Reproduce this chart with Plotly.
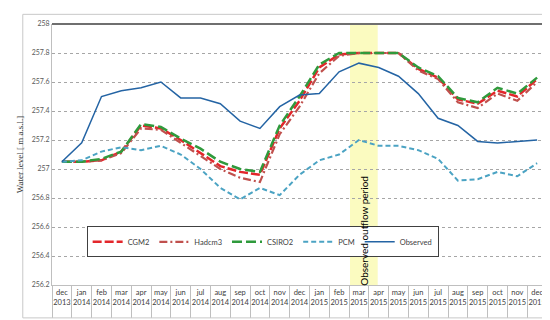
import plotly.graph_objects as go

months = ["dec", "jan", "feb", "mar", "apr", "may", "jun", "jul", "aug", "sep", "oct", "nov",
          "dec", "jan", "feb", "mar", "apr", "may", "jun", "jul", "aug", "sep", "oct", "nov", "dec"]
years = ["2013"] + ["2014"] * 12 + ["2015"] * 12

cgm2 = [257.05, 257.05, 257.06, 257.12, 257.30, 257.28, 257.20, 257.11, 257.02, 256.98, 256.96, 257.28, 257.47,
        257.70, 257.79, 257.80, 257.80, 257.80, 257.69, 257.63, 257.48, 257.45, 257.54, 257.50, 257.62]
hadcm3 = [257.05, 257.05, 257.06, 257.11, 257.28, 257.27, 257.18, 257.09, 257.00, 256.94, 256.91, 257.24, 257.43,
          257.66, 257.78, 257.80, 257.80, 257.80, 257.68, 257.62, 257.46, 257.42, 257.52, 257.47, 257.60]
csiro2 = [257.05, 257.05, 257.07, 257.12, 257.31, 257.29, 257.21, 257.14, 257.05, 257.00, 256.98, 257.30, 257.50,
          257.72, 257.80, 257.80, 257.80, 257.80, 257.70, 257.64, 257.49, 257.46, 257.56, 257.52, 257.63]
pcm = [257.05, 257.06, 257.12, 257.15, 257.13, 257.16, 257.10, 257.00, 256.87, 256.79, 256.87, 256.82, 256.96,
       257.06, 257.10, 257.20, 257.16, 257.16, 257.13, 257.07, 256.92, 256.93, 256.98, 256.95, 257.04]
observed = [257.05, 257.18, 257.50, 257.54, 257.56, 257.60, 257.49, 257.49, 257.45, 257.33, 257.28, 257.43, 257.51,
            257.52, 257.67, 257.73, 257.70, 257.64, 257.52, 257.35, 257.30, 257.19, 257.18, 257.19, 257.20]

outflow_start = 14.55
outflow_end = 15.95

cats = [f"{m}<br>{y}" for m, y in zip(months, years)]

fig = go.Figure()
series = [
    ("CGM2", cgm2, "#E3262B", "9px,3px", 2.5),
    ("Hadcm3", hadcm3, "#C0504D", "8px,3px,2px,3px", 2.2),
    ("CSIRO2", csiro2, "#2F9A3C", "10px,4px", 2.5),
    ("PCM", pcm, "#4BA3C3", "5px,3px", 2.0),
    ("Observed", observed, "#2464A4", "solid", 1.5),
]
for name, vals, color, dash, w in series:
    fig.add_trace(go.Scatter(x=cats, y=vals, name=name, mode="lines",
                             line=dict(color=color, dash=dash, width=w)))

fig.add_shape(type="rect", xref="x", yref="paper", x0=outflow_start, x1=outflow_end, y0=0, y1=1,
              fillcolor="#FBFBC0", line=dict(width=0), layer="below")
fig.add_annotation(text="Observed outflow period", x=(outflow_start + outflow_end) / 2, xref="x",
                   y=256.573, yref="y", textangle=-90, showarrow=False,
                   font=dict(family="Lato", size=10, color="#000000"))
# plot frame top and right
fig.add_shape(type="line", xref="paper", yref="paper", x0=0, x1=1, y0=1, y1=1,
              line=dict(color="#6F6F6F", width=2))
fig.add_shape(type="line", xref="paper", yref="paper", x0=1, x1=1, y0=0, y1=1,
              line=dict(color="#6F6F6F", width=2))
# outer chart border
fig.add_shape(type="rect", xref="paper", yref="paper", x0=-0.059, x1=1.0158, y0=-0.126, y1=1.037,
              line=dict(color="#C8C8C8", width=1))

fig.update_layout(
    width=550, height=320,
    margin=dict(l=32, r=11, t=12, b=38),
    plot_bgcolor="white", paper_bgcolor="white",
    font=dict(family="Lato", size=8, color="#404040"),
    showlegend=True,
    legend=dict(orientation="h", x=0.07, y=0.225, xanchor="left", yanchor="top",
                bgcolor="white", bordercolor="#404040", borderwidth=1,
                font=dict(family="Lato", size=7.5, color="#404040"),
                tracegroupgap=0, itemwidth=30),
)
fig.update_xaxes(type="category", range=[-0.5, len(cats) - 0.5], showgrid=False, showline=True,
                 linecolor="#BFBFBF", linewidth=1,
                 ticks="outside", tickson="boundaries", ticklen=32, tickcolor="#BFBFBF", tickwidth=1,
                 ticklabelstandoff=0, tickangle=0,
                 tickfont=dict(family="Lato", size=7.5, color="#404040"))
fig.update_yaxes(range=[256.2, 258], dtick=0.2, tick0=256.2, showgrid=True, gridcolor="#A6A6A6",
                 griddash="dot", gridwidth=1, zeroline=False, showline=True, linecolor="#BFBFBF",
                 ticks="", tickfont=dict(family="Lato", size=7, color="#595959"),
                 title=dict(text="Water level [ m a.s.l.]", standoff=6,
                            font=dict(family="Liberation Serif", size=9, color="#404040")))

fig.write_html("out.html")
